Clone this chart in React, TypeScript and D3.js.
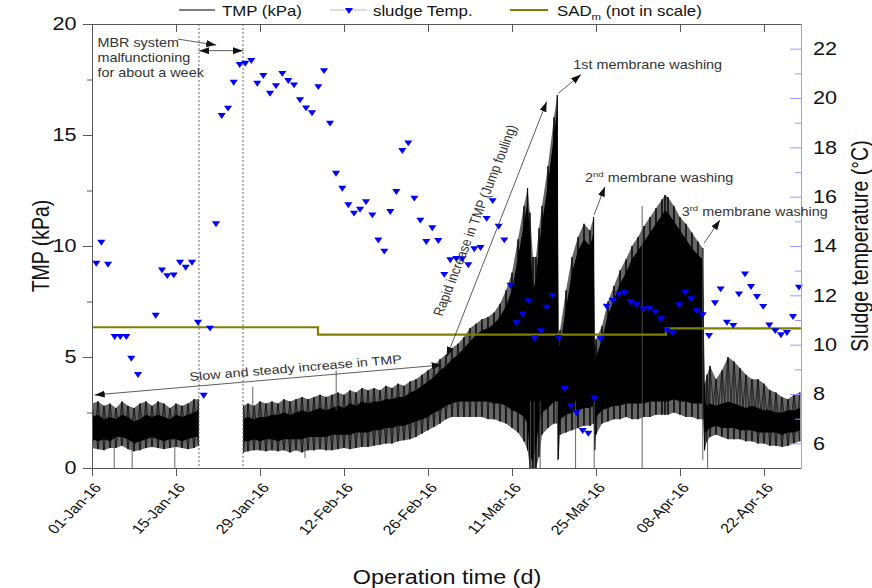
import React, { useEffect, useRef } from "react";
import * as d3 from "d3";

const W = 872, H = 588;
const SX = 1.2; // the source figure is stretched horizontally; text follows it

const startMs = Date.UTC(2016, 0, 1);
const endDay = 118.17;
const tickDays = [0, 14, 28, 42, 56, 70, 84, 98, 112];
const malfunctionDays = [17.83, 25.17];

// TMP (kPa) envelope: extremes (min/max) and dense core (low/high)
const tmpDay = [0, 1, 2, 3, 4, 5, 6, 7, 8, 9, 10, 11, 12, 13, 14, 15, 16, 17, 17.75, 21.5,
  25.25, 26, 27, 28, 29, 30, 31, 32, 33, 34, 35, 36, 37, 38, 39, 40, 41, 42, 43, 44,
  45, 46, 47, 48, 49, 50, 51, 52, 53, 54, 55, 56, 57, 58, 59, 60, 61, 62, 63, 64,
  65, 66, 67, 68, 69, 70, 71, 72, 72.6, 73, 73.5, 74, 74.5, 75, 76, 77, 77.55, 77.75, 78, 79,
  80, 81, 82, 83, 83.6, 83.8, 84, 85, 86, 87, 88, 89, 90, 91, 92, 93, 94, 95, 95.5, 96,
  97, 98, 99, 100, 101, 101.8, 102.1, 102.5, 103, 104, 105, 106, 107, 108, 109, 110, 111, 112, 113, 114,
  115, 116, 117, 118];
const tmpMin = [0.9, 0.85, 0.8, 0.9, 0.9, 1.0, 0.85, 0.75, 0.8, 0.9, 0.95, 0.9, 0.85, 0.9, 0.95, 0.9, 0.85, 0.9, 1.0, null,
  0.7, 0.75, 0.8, 0.8, 0.75, 0.8, 0.75, 0.8, 0.7, 0.8, 0.7, 0.8, 0.8, 0.85, 0.8, 0.8, 0.85, 0.9, 0.85, 0.9,
  0.95, 0.95, 1.0, 1.05, 1.1, 1.1, 1.2, 1.25, 1.3, 1.4, 1.55, 1.7, 1.85, 2.0, 2.2, 2.3, 2.3, 2.3, 2.3, 2.3,
  2.3, 2.2, 2.2, 2.1, 2.0, 1.8, 1.6, 1.2, 0.8, 0, 0, 0, 0.5, 1.5, 1.8, 2.0, 2.0, 0.4, 1.5, 1.6,
  1.7, 1.8, 1.9, 1.9, 2.0, 0.8, 1.5, 2.0, 2.1, 2.2, 2.2, 2.3, 2.2, 2.2, 2.3, 2.3, 2.4, 2.4, 2.4, 2.4,
  2.5, 2.4, 2.3, 2.3, 2.2, 2.2, 0.8, 1.2, 1.4, 1.5, 1.4, 1.3, 1.3, 1.3, 1.2, 1.2, 1.1, 1.1, 1.0, 1.0,
  0.95, 1.0, 1.1, 1.2];
const tmpLow = [1.3, 1.2, 1.3, 1.2, 1.4, 1.4, 1.3, 1.1, 1.2, 1.3, 1.4, 1.3, 1.2, 1.3, 1.3, 1.2, 1.3, 1.4, 1.4, null,
  1.2, 1.2, 1.3, 1.2, 1.3, 1.3, 1.2, 1.3, 1.3, 1.3, 1.3, 1.4, 1.4, 1.4, 1.4, 1.5, 1.5, 1.5, 1.5, 1.6,
  1.6, 1.6, 1.7, 1.7, 1.8, 1.8, 1.9, 1.9, 2.0, 2.1, 2.2, 2.3, 2.5, 2.6, 2.8, 2.9, 3.0, 3.0, 3.0, 3.0,
  3.0, 3.0, 2.9, 2.9, 2.8, 2.6, 2.5, 2.3, 2.0, 0.5, 0.3, 1.0, 2.0, 2.5, 2.7, 3.0, 3.0, 1.5, 2.2, 2.4,
  2.5, 2.6, 2.7, 2.7, 2.8, 2.0, 2.3, 2.6, 2.7, 2.8, 2.8, 2.9, 2.9, 2.9, 2.9, 3.0, 3.0, 3.0, 3.0, 3.0,
  3.1, 3.0, 3.0, 2.9, 2.9, 2.9, 1.6, 1.7, 1.8, 1.9, 1.8, 1.8, 1.8, 1.7, 1.7, 1.7, 1.6, 1.6, 1.6, 1.6,
  1.5, 1.6, 1.6, 1.7];
const tmpHigh = [2.3, 2.4, 2.2, 2.3, 2.2, 2.4, 2.3, 2.1, 2.2, 2.4, 2.3, 2.4, 2.3, 2.2, 2.4, 2.3, 2.4, 2.5, 2.6, null,
  2.2, 2.3, 2.2, 2.3, 2.3, 2.4, 2.4, 2.5, 2.4, 2.5, 2.6, 2.5, 2.6, 2.7, 2.6, 2.7, 2.8, 2.7, 2.9, 2.8,
  3.0, 2.9, 3.0, 3.0, 3.1, 3.1, 3.2, 3.2, 3.4, 3.5, 3.7, 3.9, 4.1, 4.4, 4.6, 4.9, 5.1, 5.4, 5.7, 6.0,
  6.2, 6.3, 6.5, 6.8, 7.3, 8.0, 9.5, 11.0, 12.0, 10.5, 8.0, 8.5, 10.0, 11.0, 12.8, 15.0, 16.2, 5.5, 5.5, 7.2,
  8.8, 9.8, 10.3, 10.0, 10.6, 4.5, 5.0, 5.8, 6.9, 7.6, 8.3, 8.8, 9.4, 9.8, 10.2, 10.6, 11.0, 11.4, 11.6, 11.5,
  11.1, 10.7, 10.3, 9.9, 9.6, 9.4, 3.0, 2.8, 2.9, 2.8, 2.9, 3.0, 2.9, 2.8, 2.7, 2.8, 2.7, 2.6, 2.6, 2.5,
  2.5, 2.6, 2.6, 2.7];
const tmpMax = [2.9, 3.0, 2.8, 2.9, 2.7, 3.0, 2.8, 2.7, 2.9, 3.0, 2.8, 3.0, 2.9, 2.7, 2.9, 2.8, 2.9, 3.1, 3.1, null,
  2.8, 2.9, 2.8, 3.0, 2.9, 3.0, 2.9, 3.1, 3.0, 3.1, 3.2, 3.1, 3.2, 3.3, 3.2, 3.3, 3.4, 3.3, 3.5, 3.4,
  3.6, 3.5, 3.6, 3.5, 3.7, 3.6, 3.8, 3.7, 3.9, 4.0, 4.2, 4.4, 4.6, 4.9, 5.1, 5.4, 5.6, 5.9, 6.3, 6.5,
  6.7, 6.8, 7.0, 7.4, 8.0, 8.8, 10.3, 11.8, 12.6, 11.5, 9.5, 9.5, 10.8, 11.8, 13.6, 15.8, 16.8, 6.0, 6.2, 8.0,
  9.5, 10.4, 11.0, 10.7, 11.3, 5.5, 5.8, 6.4, 7.5, 8.2, 8.9, 9.4, 10.0, 10.4, 10.9, 11.3, 11.7, 12.1, 12.3, 12.2,
  11.8, 11.3, 11.0, 10.6, 10.2, 9.9, 3.8, 4.2, 4.6, 4.0, 4.4, 5.0, 4.8, 4.5, 4.2, 4.0, 4.0, 3.8, 3.5, 3.4,
  3.2, 3.1, 3.3, 3.4];

// single short excursions of TMP (thin vertical strokes)
const spikeDay = [3.7, 6.7, 13.8, 26.8, 35.5, 40.7, 73.1, 73.7, 74.7, 77.6, 80.6, 83.7, 91.7, 101.8, 102.6];
const spikeLow = [0, 0, 0, 2.5, 0.45, 2.6, 0, 0, 0, 0.35, 0, 0, 0, 0.35, 0];
const spikeHigh = [1.2, 1.2, 1.2, 3.66, 1.2, 4.4, 3, 3, 3, 3, 3, 3, 11.8, 9.9, 1.6];

// sludge temperature (°C)
const tempDay = [0.72, 1.55, 2.67, 3.78, 4.72, 5.72, 6.55, 7.67, 10.62, 11.67, 12.55, 13.62, 14.67, 15.62, 16.67, 17.67,
  18.62, 19.67, 20.67, 21.62, 22.67, 23.62, 24.62, 25.55, 26.55, 27.55, 28.55, 29.67, 30.67, 31.72, 32.72, 33.67,
  34.67, 35.67, 36.67, 37.72, 38.67, 39.67, 40.67, 41.72, 42.72, 43.67, 44.67, 45.67, 46.72, 47.72, 48.72, 49.72,
  50.72, 51.72, 52.72, 53.72, 54.72, 55.72, 56.72, 57.72, 58.72, 59.72, 60.72, 61.72, 62.72, 63.72, 64.75, 65.78,
  66.78, 67.78, 68.72, 69.75, 70.75, 71.72, 72.75, 73.75, 74.78, 75.75, 76.75, 77.78, 78.75, 79.78, 80.78, 81.78,
  82.72, 83.72, 84.78, 85.78, 86.78, 87.78, 88.78, 89.78, 90.78, 91.88, 92.83, 93.83, 94.83, 95.78, 96.78, 97.83,
  98.83, 99.83, 100.78, 101.78, 102.83, 103.83, 104.78, 105.83, 106.88, 107.83, 108.83, 109.83, 110.83, 111.88, 112.88, 113.88,
  114.83, 115.83, 116.83, 117.83];
const tempC = [13.32, 14.17, 13.28, 10.35, 10.35, 10.35, 9.47, 8.81, 11.21, 13.05, 12.82, 12.85, 13.36, 13.16, 13.36, 10.93,
  7.97, 10.69, 14.92, 19.31, 19.61, 20.66, 21.38, 21.43, 21.54, 20.62, 20.93, 20.21, 20.52, 21.02, 20.73, 20.55,
  19.95, 19.62, 19.42, 20.48, 21.13, 19.0, 16.97, 16.36, 15.69, 15.35, 15.51, 15.82, 15.28, 14.26, 13.81, 15.42,
  16.23, 17.89, 18.2, 15.96, 15.07, 14.2, 14.76, 14.24, 12.87, 13.46, 13.51, 13.5, 13.26, 13.91, 13.96, 15.14,
  15.86, 14.82, 14.27, 12.43, 10.91, 11.27, 11.79, 10.29, 10.59, 11.54, 12.01, 10.31, 8.24, 7.55, 7.26, 6.54,
  6.43, 7.85, 10.26, 11.58, 11.81, 12.08, 12.13, 11.76, 11.66, 11.47, 11.5, 11.36, 11.07, 10.62, 10.5, 11.64,
  12.15, 11.88, 11.4, 11.23, 10.39, 11.72, 12.28, 10.93, 10.8, 12.08, 12.89, 12.38, 11.97, 11.57, 10.82, 10.59,
  10.42, 10.51, 11.16, 12.35];

// SADm (not in scale), drawn against the TMP axis
const sadDay = [0, 37.67, 95.67, 118.17];
const sadVal = [6.34, 6.01, 6.29, 6.29];

// annotation arrows (day, kPa)
const arrowFromDay = [14.33, 17.83, 0.45, 59.12, 77.72, 83.67, 102.0];
const arrowFromTmp = [19.32, 18.8, 3.29, 5.01, 16.88, 11.4, 10.12];
const arrowToDay = [20.7, 25.17, 58.28, 75.78, 81.5, 85.5, 104.67];
const arrowToTmp = [19.05, 18.8, 4.64, 16.5, 17.72, 12.67, 11.17];
const arrowBoth = [false, true, true, true, false, false, false];

const pre = (deg: number) => {
  const r = (deg * Math.PI) / 180;
  return (Math.atan2(SX * Math.sin(r), Math.cos(r)) * 180) / Math.PI;
};

export default function App() {
  const ref = useRef<SVGSVGElement>(null);

  useEffect(() => {
    const svg = d3.select(ref.current);
    svg.selectAll("*").remove();

    const L = 92, R = 801, T = 24, B = 468;
    const toDate = (d: number) => new Date(startMs + d * 864e5);
    const x = d3.scaleUtc().domain([toDate(0), toDate(endDay)]).range([L, R]);
    const y = d3.scaleLinear().domain([0, 20]).range([B, T]);
    const y2 = d3.scaleLinear().domain([5, 23]).range([B, T]);
    const xd = (d: number) => x(toDate(d));
    const fmt = d3.utcFormat("%d-%b-%y");

    const txt = (px: number, py: number, rot: number, size: number, anchor: string) =>
      svg
        .append("text")
        .attr("transform", `translate(${px},${py}) scale(${SX},1) rotate(${pre(rot)})`)
        .attr("font-size", size)
        .attr("text-anchor", anchor)
        .attr("fill", "#111");

    const defs = svg.append("defs");
    defs
      .append("marker")
      .attr("id", "ah")
      .attr("viewBox", "0 0 10 7")
      .attr("refX", 10)
      .attr("refY", 3.5)
      .attr("markerWidth", 10)
      .attr("markerHeight", 7)
      .attr("markerUnits", "userSpaceOnUse")
      .attr("orient", "auto-start-reverse")
      .append("path")
      .attr("d", "M0,0L10,3.5L0,7z")
      .attr("fill", "#111");
    defs.append("clipPath").attr("id", "plot").append("rect")
      .attr("x", L).attr("y", T).attr("width", R - L).attr("height", B - T);

    // TMP
    const rows = tmpDay.map((d, i) => ({ d, mn: tmpMin[i], lo: tmpLow[i], hi: tmpHigh[i], mx: tmpMax[i] }));
    const plot = svg.append("g").attr("clip-path", "url(#plot)");

    const outer = d3
      .area<any>()
      .defined((r) => r.mx != null)
      .x((r) => xd(r.d))
      .y0((r) => y(r.mn))
      .y1((r) => y(r.mx));
    plot.append("path").datum(rows).attr("d", outer).attr("fill", "#000").attr("fill-opacity", 0.6);

    const core = d3
      .area<any>()
      .defined((r) => r.mx != null)
      .x((r) => xd(r.d))
      .y0((r) => y(r.lo))
      .y1((r) => y(r.hi));
    plot.append("path").datum(rows).attr("d", core).attr("fill", "#000");

    const zig = d3
      .line<any>()
      .defined((p) => p.v != null)
      .x((p) => xd(p.d))
      .y((p) => y(p.v));
    [0, 1].forEach((k) => {
      const pts = rows.map((r, i) => ({ d: r.d, v: (i + k) % 2 === 0 ? r.mx : r.mn }));
      plot.append("path").datum(pts).attr("d", zig).attr("fill", "none")
        .attr("stroke", "#000").attr("stroke-width", 0.6);
    });
    plot
      .selectAll(".rule")
      .data(rows.filter((r) => r.mx != null))
      .join("line")
      .attr("x1", (r) => xd(r.d)).attr("x2", (r) => xd(r.d))
      .attr("y1", (r) => y(r.mn)).attr("y2", (r) => y(r.mx))
      .attr("stroke", "#000").attr("stroke-width", 0.8);

    plot
      .selectAll(".spike")
      .data(spikeDay)
      .join("line")
      .attr("x1", (d) => xd(d)).attr("x2", (d) => xd(d))
      .attr("y1", (d, i) => y(spikeLow[i])).attr("y2", (d, i) => y(spikeHigh[i]))
      .attr("stroke", "#555").attr("stroke-width", 0.9);

    // malfunction period markers
    svg
      .selectAll(".mal")
      .data(malfunctionDays)
      .join("line")
      .attr("x1", (d) => xd(d)).attr("x2", (d) => xd(d))
      .attr("y1", T).attr("y2", B)
      .attr("stroke", "#666").attr("stroke-width", 1).attr("stroke-dasharray", "2,2");

    // SADm
    const sad = d3.line<number>().x((d) => xd(d)).y((d, i) => y(sadVal[i])).curve(d3.curveStepAfter);
    svg.append("path").datum(sadDay).attr("d", sad).attr("fill", "none")
      .attr("stroke", "#808000").attr("stroke-width", 2.2);

    // sludge temperature
    const tri = d3.symbol(d3.symbolTriangle, 20)();
    svg
      .selectAll(".temp")
      .data(tempDay)
      .join("path")
      .attr("d", tri)
      .attr("transform", (d, i) => `translate(${xd(d)},${y2(tempC[i])}) scale(${SX},-1)`)
      .attr("fill", "#0000ff");

    // axes
    const axisStyle = (g: any, color: string) => {
      g.selectAll("path,line").attr("stroke", color).attr("stroke-width", 1);
      g.selectAll("text").remove();
    };
    const ticks = tickDays.map(toDate);
    svg.append("g").attr("transform", `translate(0,${B})`)
      .call(d3.axisBottom(x).tickValues(ticks).tickSize(8).tickSizeOuter(0))
      .call(axisStyle, "#555");
    svg.append("g").attr("transform", `translate(0,${T})`)
      .call(d3.axisTop(x).tickValues(ticks).tickSize(-8).tickSizeOuter(0))
      .call(axisStyle, "#555");
    svg.append("g").attr("transform", `translate(${L},0)`)
      .call(d3.axisLeft(y).tickValues([0, 5, 10, 15, 20]).tickSize(9).tickSizeOuter(0))
      .call(axisStyle, "#555");
    svg.append("g").attr("transform", `translate(${L},0)`)
      .call(d3.axisLeft(y).tickValues([2.5, 7.5, 12.5, 17.5]).tickSize(5).tickSizeOuter(0))
      .call(axisStyle, "#555");
    svg.append("g").attr("transform", `translate(${R},0)`)
      .call(d3.axisRight(y2).tickValues(d3.range(6, 23, 2)).tickSize(-11).tickSizeOuter(0))
      .call(axisStyle, "#9999ff");
    svg.append("g").attr("transform", `translate(${R},0)`)
      .call(d3.axisRight(y2).tickValues(d3.range(7, 22, 2)).tickSize(-6).tickSizeOuter(0))
      .call(axisStyle, "#9999ff");

    [0, 5, 10, 15, 20].forEach((v) => txt(L - 15.5, y(v), 0, 18, "end").attr("dy", "0.35em").text(v));
    d3.range(6, 23, 2).forEach((v) => txt(R + 12, y2(v), 0, 18, "start").attr("dy", "0.35em").text(v));
    tickDays.forEach((d) => txt(xd(d) + 10, B + 20, -45, 13.5, "end").text(fmt(toDate(d))));

    txt(49, (T + B) / 2, -90, 19.5, "middle").text("TMP (kPa)");
    txt(868, (T + B) / 2, -90, 19.5, "middle").text("Sludge temperature (°C)");
    txt(447, 584, 0, 19.5, "middle").text("Operation time (d)");

    // legend
    svg.append("line").attr("x1", 179).attr("x2", 215).attr("y1", 10).attr("y2", 10).attr("stroke", "#000");
    txt(222, 15.5, 0, 14, "start").text("TMP (kPa)");
    svg.append("line").attr("x1", 330).attr("x2", 367).attr("y1", 10).attr("y2", 10).attr("stroke", "#bbb");
    svg.append("path").attr("d", tri).attr("transform", `translate(349,10) scale(${SX},-1)`).attr("fill", "#0000ff");
    txt(373, 15.5, 0, 14, "start").text("sludge Temp.");
    svg.append("line").attr("x1", 510).attr("x2", 548).attr("y1", 10).attr("y2", 10)
      .attr("stroke", "#808000").attr("stroke-width", 2.2);
    const sadT = txt(557, 15.5, 0, 14, "start");
    sadT.append("tspan").text("SAD");
    sadT.append("tspan").attr("font-size", 9.5).attr("dy", 4).text("m");
    sadT.append("tspan").attr("dy", -4).text(" (not in scale)");

    // annotation arrows
    svg
      .selectAll(".arrow")
      .data(arrowFromDay)
      .join("line")
      .attr("x1", (d) => xd(d)).attr("y1", (d, i) => y(arrowFromTmp[i]))
      .attr("x2", (d, i) => xd(arrowToDay[i])).attr("y2", (d, i) => y(arrowToTmp[i]))
      .attr("stroke", "#333").attr("stroke-width", 0.8)
      .attr("marker-end", "url(#ah)")
      .attr("marker-start", (d, i) => (arrowBoth[i] ? "url(#ah)" : null));

    const note = 12;
    const mbr = txt(xd(0.9), y(18.98), 0, note, "start").attr("fill", "#333");
    ["MBR system", "malfunctioning", "for about a week"].forEach((s, i) =>
      mbr.append("tspan").attr("x", 0).attr("dy", i === 0 ? 0 : 15).text(s)
    );
    txt(xd(16.33), y(3.92), -4.8, note, "start").attr("fill", "#333").text("Slow and steady increase in TMP");
    txt(xd(64.6), y(11.1), -68.6, note, "middle").attr("fill", "#333").text("Rapid increase in TMP (Jump fouling)");
    txt(xd(80.22), y(17.97), 0, note, "start").attr("fill", "#333").text("1st membrane washing");
    const w2 = txt(xd(82.17), y(12.9), 0, note, "start").attr("fill", "#333");
    w2.append("tspan").text("2");
    w2.append("tspan").attr("font-size", 8).attr("dy", -5).text("nd");
    w2.append("tspan").attr("dy", 5).text(" membrane washing");
    const w3 = txt(xd(98.28), y(11.35), 0, note, "start").attr("fill", "#333");
    w3.append("tspan").text("3");
    w3.append("tspan").attr("font-size", 8).attr("dy", -5).text("rd");
    w3.append("tspan").attr("dy", 5).text(" membrane washing");
  }, []);

  return (
    <svg
      ref={ref}
      width={W}
      height={H}
      style={{ position: "absolute", left: 0, top: 0, background: "#fff", fontFamily: "'Liberation Sans', Arial, sans-serif" }}
    />
  );
}
